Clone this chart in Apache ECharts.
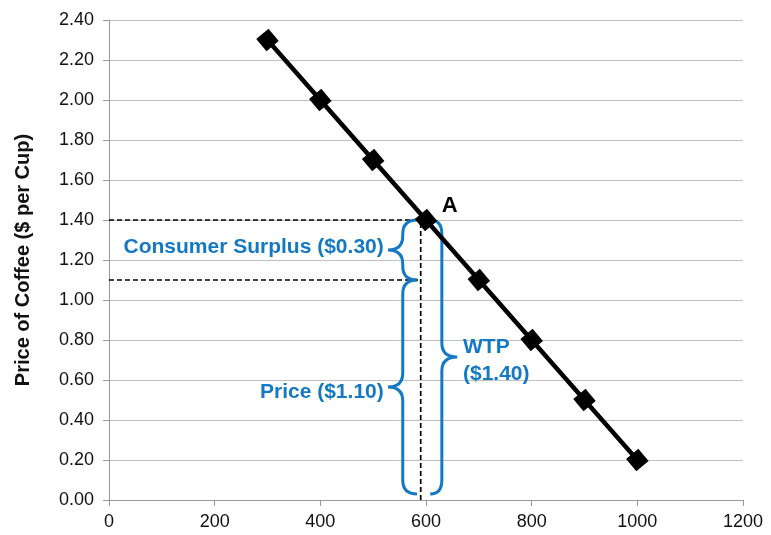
<!DOCTYPE html>
<html>
<head>
<meta charset="utf-8">
<script src="https://cdn.jsdelivr.net/npm/echarts@6/dist/echarts.min.js"></script>
<style>
  html, body { margin: 0; padding: 0; background: #fff; }
  #chart { width: 771px; height: 535px; }
</style>
</head>
<body>
<div id="chart"></div>
<script>
// demand curve
let quantity = [300, 400, 500, 600, 700, 800, 900, 1000];
let price = [2.30, 2.00, 1.70, 1.40, 1.10, 0.80, 0.50, 0.20];

let xTicks = { min: 0, max: 1200, interval: 200 };
let yTicks = { min: 0, max: 2.4, interval: 0.2 };

// dashed guide lines [x1, y1, x2, y2]
let guides = [
    [0, 1.40, 600, 1.40],
    [0, 1.10, 585, 1.10],
    [590, 0, 590, 1.40]
];

// braces: line x, tip x, end x, top y, bottom y
let braces = [
    [556, 528, 583, 1.40, 1.10],
    [556, 528, 583, 1.10, 0.03],
    [630, 659, 608, 1.40, 0.03]
];

// annotation text: x, y
let noteText = ['Consumer Surplus ($0.30)', 'Price ($1.10)', 'WTP', '($1.40)', 'A'];
let noteX = [520, 520, 670, 670, 630];
let noteY = [1.265, 0.54, 0.765, 0.63, 1.47];
let noteAlign = ['right', 'right', 'left', 'left', 'left'];

const blue = '#1479c4';

let guideSeries = guides.map(function (g) {
    return {
        type: 'line',
        data: [[g[0], g[1]], [g[2], g[3]]],
        symbol: 'none',
        silent: true,
        lineStyle: { color: '#000', width: 1.7, type: [5, 3] },
        z: 1
    };
});

let option = {
    animation: false,
    grid: { left: 109, right: 28, top: 20, bottom: 35 },
    xAxis: {
        type: 'value',
        min: xTicks.min, max: xTicks.max, interval: xTicks.interval,
        axisLine: { show: true, lineStyle: { color: '#999' } },
        axisTick: { show: true, length: 6, lineStyle: { color: '#999' } },
        splitLine: { show: false },
        axisLabel: {
            color: '#111', fontSize: 18, fontFamily: 'Liberation Sans', margin: 13,
            formatter: function (v) { return String(v); }
        }
    },
    yAxis: {
        type: 'value',
        min: yTicks.min, max: yTicks.max, interval: yTicks.interval,
        name: 'Price of Coffee ($ per Cup)',
        nameLocation: 'middle',
        nameGap: 76,
        nameTextStyle: { color: '#111', fontSize: 20, fontWeight: 'bold', fontFamily: 'Liberation Sans' },
        axisLine: { show: true, lineStyle: { color: '#999' } },
        axisTick: { show: true, length: 6, lineStyle: { color: '#999' } },
        splitLine: { lineStyle: { color: '#c0c0c0', width: 1 } },
        axisLabel: {
            color: '#111', fontSize: 18, fontFamily: 'Liberation Sans', margin: 15,
            formatter: function (v) { return v.toFixed(2); }
        }
    },
    series: guideSeries.concat([
        {
            type: 'custom',
            silent: true,
            clip: false,
            data: braces,
            renderItem: function (params, api) {
                let xl = api.coord([api.value(0), 0])[0];
                let xt = api.coord([api.value(1), 0])[0];
                let xe = api.coord([api.value(2), 0])[0];
                let yt = api.coord([0, api.value(3)])[1];
                let yb = api.coord([0, api.value(4)])[1];
                let ym = (yt + yb) / 2;
                let r = 14;
                let d = 'M' + xe + ' ' + yt +
                    ' Q' + xl + ' ' + yt + ' ' + xl + ' ' + (yt + r) +
                    ' L' + xl + ' ' + (ym - r) +
                    ' Q' + xl + ' ' + ym + ' ' + xt + ' ' + ym +
                    ' Q' + xl + ' ' + ym + ' ' + xl + ' ' + (ym + r) +
                    ' L' + xl + ' ' + (yb - r) +
                    ' Q' + xl + ' ' + yb + ' ' + xe + ' ' + yb;
                return {
                    type: 'path',
                    shape: { pathData: d },
                    style: { stroke: blue, fill: 'none', lineWidth: 3 }
                };
            },
            z: 2
        },
        {
            type: 'line',
            data: quantity.map(function (q, i) { return [q, price[i]]; }),
            symbol: 'rect',
            symbolSize: 16,
            symbolRotate: 40,
            itemStyle: { color: '#000' },
            lineStyle: { color: '#000', width: 4.5 },
            z: 3
        },
        {
            type: 'custom',
            silent: true,
            clip: false,
            data: noteX.map(function (x, i) { return [x, noteY[i]]; }),
            renderItem: function (params, api) {
                let p = api.coord([api.value(0), api.value(1)]);
                let i = params.dataIndex;
                return {
                    type: 'text',
                    x: p[0], y: p[1],
                    style: {
                        text: noteText[i],
                        fill: noteText[i] === 'A' ? '#000' : blue,
                        font: 'bold ' + (noteText[i] === 'A' ? 22 : 21) + 'px "Liberation Sans"',
                        align: noteAlign[i],
                        verticalAlign: 'middle'
                    }
                };
            },
            z: 4
        }
    ])
};

let chart = echarts.init(document.getElementById('chart'));
chart.setOption(option);
</script>
</body>
</html>
